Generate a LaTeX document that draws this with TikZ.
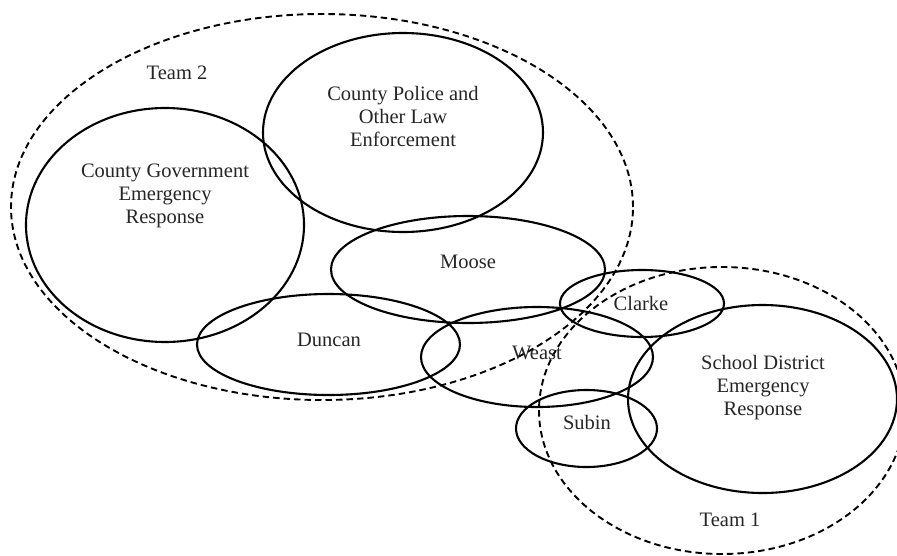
\documentclass[tikz,border=0pt]{standalone}
\usepackage{fontspec}
\setmainfont{Liberation Serif}
\usetikzlibrary{shapes.geometric}
\begin{document}
\begin{tikzpicture}[x=1pt,y=-1pt,
  ring/.style={ellipse,draw=black,line width=2.1pt,inner sep=0pt,minimum width=#1},
  teamring/.style={ellipse,draw=black,line width=1.9pt,dash pattern=on 6.5pt off 4pt,inner sep=0pt,minimum width=#1},
  lbl/.style={font=\fontsize{20.5}{23}\selectfont,align=center,text=black!85,inner sep=0pt}]
\useasboundingbox (0,0) rectangle (897,555);
\clip (0,0) rectangle (897,555);
% team groupings
\node[teamring=622pt,minimum height=386pt] (team2) at (322,207) {};
\node[teamring=366pt,minimum height=287pt] (team1) at (722,410.5) {};
% organisations and people
\node[ring=278pt,minimum height=234pt] (gov) at (165,225) {};
\node[ring=280pt,minimum height=199pt] (police) at (403,132.5) {};
\node[ring=274pt,minimum height=107pt] (moose) at (468,269.5) {};
\node[ring=263pt,minimum height=101pt] (duncan) at (328.5,344.5) {};
\node[ring=232pt,minimum height=100pt] (weast) at (537,357) {};
\node[ring=164pt,minimum height=67pt] (clarke) at (642,303.5) {};
\node[ring=269pt,minimum height=188pt] (school) at (762.5,399) {};
\node[ring=141pt,minimum height=77pt] (subin) at (586.5,428.5) {};
% labels
\node[lbl] (t2) at (177,73) {Team 2};
\node[lbl] (t1) at (730,520) {Team 1};
\node[lbl] (govl) at (165,196) {County Government\\Emergency\\Response};
\node[lbl] (policel) at (403,116) {County Police and\\Other Law\\Enforcement};
\node[lbl] (moosel) at (468,262) {Moose};
\node[lbl] (duncanl) at (329,340) {Duncan};
\node[lbl] (weastl) at (537,353) {Weast};
\node[lbl] (clarkel) at (641,303) {Clarke};
\node[lbl] (subinl) at (587,422) {Subin};
\node[lbl] (schooll) at (763,388) {School District\\Emergency\\Response};
\end{tikzpicture}
\end{document}
